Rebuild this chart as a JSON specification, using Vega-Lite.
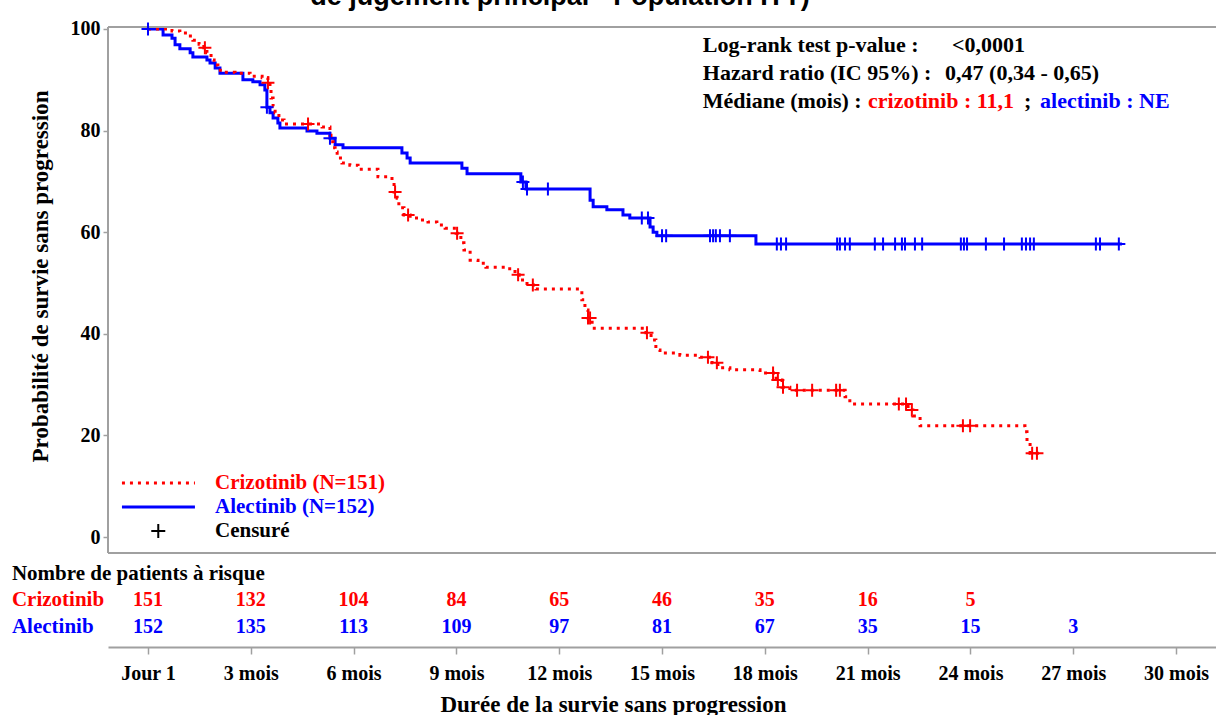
{
  "$schema": "https://vega.github.io/schema/vega-lite/v6.json",
  "width": 1108,
  "height": 620,
  "autosize": {"type": "none"},
  "padding": {"left": 108, "top": 27, "right": 0, "bottom": 68},
  "background": "white",
  "config": {"view": {"stroke": null}, "font": "Liberation Serif"},
  "datasets": {
    "km": [
      {"g":"r","m":0,"p":100},{"g":"r","m":0.70,"p":99.6},{"g":"r","m":0.93,"p":99.2},{"g":"r","m":1.14,"p":98.6},{"g":"r","m":1.31,"p":97.8},{"g":"r","m":1.49,"p":97.0},{"g":"r","m":1.63,"p":96.3},{"g":"r","m":1.72,"p":95.3},{"g":"r","m":1.84,"p":93.9},{"g":"r","m":1.93,"p":92.9},{"g":"r","m":2.04,"p":91.9},{"g":"r","m":2.16,"p":91.5},{"g":"r","m":2.54,"p":91.3},{"g":"r","m":2.98,"p":90.7},{"g":"r","m":3.33,"p":90.4},{"g":"r","m":3.50,"p":89.4},{"g":"r","m":3.56,"p":88.0},{"g":"r","m":3.59,"p":86.4},{"g":"r","m":3.65,"p":84.8},{"g":"r","m":3.71,"p":83.5},{"g":"r","m":3.82,"p":82.1},{"g":"r","m":3.97,"p":81.3},{"g":"r","m":5.08,"p":80.7},{"g":"r","m":5.31,"p":79.1},{"g":"r","m":5.34,"p":77.8},{"g":"r","m":5.40,"p":76.6},{"g":"r","m":5.46,"p":75.8},{"g":"r","m":5.52,"p":74.6},{"g":"r","m":5.66,"p":73.6},{"g":"r","m":5.89,"p":73.2},{"g":"r","m":6.13,"p":72.4},{"g":"r","m":6.71,"p":70.9},{"g":"r","m":7.12,"p":69.7},{"g":"r","m":7.18,"p":67.9},{"g":"r","m":7.27,"p":66.7},{"g":"r","m":7.32,"p":64.8},{"g":"r","m":7.47,"p":63.4},{"g":"r","m":7.65,"p":62.8},{"g":"r","m":7.94,"p":62.4},{"g":"r","m":8.17,"p":62.0},{"g":"r","m":8.43,"p":61.4},{"g":"r","m":8.67,"p":60.8},{"g":"r","m":8.99,"p":59.8},{"g":"r","m":9.13,"p":57.9},{"g":"r","m":9.22,"p":56.5},{"g":"r","m":9.40,"p":54.5},{"g":"r","m":9.63,"p":53.9},{"g":"r","m":9.86,"p":53.1},{"g":"r","m":10.42,"p":52.8},{"g":"r","m":10.71,"p":51.6},{"g":"r","m":10.83,"p":50.6},{"g":"r","m":11.06,"p":49.6},{"g":"r","m":11.32,"p":48.8},{"g":"r","m":12.66,"p":46.7},{"g":"r","m":12.75,"p":44.7},{"g":"r","m":12.84,"p":43.1},{"g":"r","m":12.96,"p":41.1},{"g":"r","m":14.53,"p":40.2},{"g":"r","m":14.68,"p":38.8},{"g":"r","m":14.82,"p":36.8},{"g":"r","m":14.94,"p":36.2},{"g":"r","m":15.52,"p":35.8},{"g":"r","m":16.11,"p":35.4},{"g":"r","m":16.46,"p":34.3},{"g":"r","m":16.63,"p":33.3},{"g":"r","m":16.98,"p":32.9},{"g":"r","m":17.86,"p":32.3},{"g":"r","m":18.33,"p":30.9},{"g":"r","m":18.50,"p":29.5},{"g":"r","m":18.73,"p":28.9},{"g":"r","m":20.34,"p":27.6},{"g":"r","m":20.48,"p":26.2},{"g":"r","m":22.18,"p":25.0},{"g":"r","m":22.32,"p":23.8},{"g":"r","m":22.53,"p":21.9},{"g":"r","m":25.59,"p":20.7},{"g":"r","m":25.65,"p":18.9},{"g":"r","m":25.74,"p":16.5},{"g":"r","m":26.03,"p":16.5},
      {"g":"b","m":0,"p":100},{"g":"b","m":0.44,"p":98.8},{"g":"b","m":0.70,"p":98.2},{"g":"b","m":0.79,"p":96.9},{"g":"b","m":0.93,"p":96.1},{"g":"b","m":1.23,"p":95.3},{"g":"b","m":1.31,"p":94.5},{"g":"b","m":1.72,"p":93.9},{"g":"b","m":1.81,"p":93.3},{"g":"b","m":1.96,"p":92.3},{"g":"b","m":2.10,"p":91.3},{"g":"b","m":2.77,"p":90.0},{"g":"b","m":3.06,"p":89.6},{"g":"b","m":3.27,"p":89.0},{"g":"b","m":3.41,"p":88.0},{"g":"b","m":3.47,"p":84.6},{"g":"b","m":3.56,"p":83.5},{"g":"b","m":3.65,"p":82.5},{"g":"b","m":3.79,"p":81.5},{"g":"b","m":3.85,"p":80.5},{"g":"b","m":4.64,"p":79.9},{"g":"b","m":4.93,"p":79.5},{"g":"b","m":5.31,"p":78.5},{"g":"b","m":5.46,"p":77.2},{"g":"b","m":5.69,"p":76.6},{"g":"b","m":7.41,"p":75.6},{"g":"b","m":7.56,"p":74.6},{"g":"b","m":7.65,"p":73.6},{"g":"b","m":9.16,"p":72.6},{"g":"b","m":9.31,"p":71.5},{"g":"b","m":10.88,"p":69.9},{"g":"b","m":11.03,"p":68.5},{"g":"b","m":12.90,"p":66.3},{"g":"b","m":12.99,"p":65.0},{"g":"b","m":13.39,"p":64.4},{"g":"b","m":13.86,"p":63.4},{"g":"b","m":14.06,"p":62.8},{"g":"b","m":14.65,"p":61.0},{"g":"b","m":14.74,"p":60.0},{"g":"b","m":14.85,"p":59.3},{"g":"b","m":17.74,"p":57.7},{"g":"b","m":28.42,"p":57.7}
    ],
    "cens": [
      {"g":"r","m":1.66,"p":96.3},{"g":"r","m":3.50,"p":89.4},{"g":"r","m":4.67,"p":81.3},{"g":"r","m":7.21,"p":67.9},{"g":"r","m":7.59,"p":63.4},{"g":"r","m":9.02,"p":59.8},{"g":"r","m":10.80,"p":51.6},{"g":"r","m":11.23,"p":49.6},{"g":"r","m":12.84,"p":43.1},{"g":"r","m":12.90,"p":43.1},{"g":"r","m":14.56,"p":40.2},{"g":"r","m":16.34,"p":35.4},{"g":"r","m":16.60,"p":34.3},{"g":"r","m":18.24,"p":32.3},{"g":"r","m":18.38,"p":30.9},{"g":"r","m":18.53,"p":29.5},{"g":"r","m":18.94,"p":28.9},{"g":"r","m":19.38,"p":28.9},{"g":"r","m":20.08,"p":28.9},{"g":"r","m":20.19,"p":28.9},{"g":"r","m":21.91,"p":26.2},{"g":"r","m":22.12,"p":26.2},{"g":"r","m":22.29,"p":25.0},{"g":"r","m":23.78,"p":21.9},{"g":"r","m":23.99,"p":21.9},{"g":"r","m":25.80,"p":16.5},{"g":"r","m":25.94,"p":16.5},
      {"g":"b","m":0,"p":100},{"g":"b","m":3.47,"p":84.6},{"g":"b","m":5.31,"p":78.5},{"g":"b","m":10.94,"p":69.9},{"g":"b","m":11.06,"p":68.5},{"g":"b","m":11.67,"p":68.5},{"g":"b","m":14.41,"p":62.8},{"g":"b","m":14.59,"p":62.8},{"g":"b","m":15.00,"p":59.3},{"g":"b","m":15.12,"p":59.3},{"g":"b","m":16.40,"p":59.3},{"g":"b","m":16.49,"p":59.3},{"g":"b","m":16.57,"p":59.3},{"g":"b","m":16.69,"p":59.3},{"g":"b","m":16.98,"p":59.3},{"g":"b","m":18.35,"p":57.7},{"g":"b","m":18.47,"p":57.7},{"g":"b","m":18.62,"p":57.7},{"g":"b","m":20.11,"p":57.7},{"g":"b","m":20.19,"p":57.7},{"g":"b","m":20.34,"p":57.7},{"g":"b","m":20.48,"p":57.7},{"g":"b","m":21.21,"p":57.7},{"g":"b","m":21.45,"p":57.7},{"g":"b","m":21.80,"p":57.7},{"g":"b","m":22.00,"p":57.7},{"g":"b","m":22.09,"p":57.7},{"g":"b","m":22.38,"p":57.7},{"g":"b","m":22.59,"p":57.7},{"g":"b","m":23.72,"p":57.7},{"g":"b","m":23.81,"p":57.7},{"g":"b","m":23.90,"p":57.7},{"g":"b","m":24.45,"p":57.7},{"g":"b","m":24.98,"p":57.7},{"g":"b","m":25.50,"p":57.7},{"g":"b","m":25.62,"p":57.7},{"g":"b","m":25.74,"p":57.7},{"g":"b","m":25.85,"p":57.7},{"g":"b","m":27.66,"p":57.7},{"g":"b","m":27.78,"p":57.7},{"g":"b","m":28.33,"p":57.7}
    ],
    "notes": [
      {"t":"Log-rank test p-value :","m":16.19,"p":95.47,"g":"k"},
      {"t":"<0,0001","m":23.46,"p":95.47,"g":"k"},
      {"t":"Hazard ratio (IC 95%) :","m":16.19,"p":89.96,"g":"k"},
      {"t":"0,47 (0,34 - 0,65)","m":23.26,"p":89.96,"g":"k"},
      {"t":"Médiane (mois) :","m":16.19,"p":84.45,"g":"k"},
      {"t":"crizotinib : 11,1","m":21.01,"p":84.45,"g":"r"},
      {"t":";","m":25.56,"p":84.45,"g":"k"},
      {"t":"alectinib : NE","m":26.03,"p":84.45,"g":"b"}
    ],
    "legend": [
      {"t":"Crizotinib (N=151)","m":1.955,"p":10.63,"g":"r"},
      {"t":"Alectinib (N=152)","m":1.955,"p":5.91,"g":"b"},
      {"t":"Censuré","m":1.955,"p":1.18,"g":"k"},
      {"t":"Nombre de patients à risque","m":-3.97,"p":-7.28,"g":"k"},
      {"t":"Crizotinib","m":-3.97,"p":-12.40,"g":"r"},
      {"t":"Alectinib","m":-3.97,"p":-17.72,"g":"b"}
    ],
    "risk": [
      {"t":"151","m":0,"p":-12.40,"g":"r"},{"t":"132","m":3,"p":-12.40,"g":"r"},{"t":"104","m":6,"p":-12.40,"g":"r"},{"t":"84","m":9,"p":-12.40,"g":"r"},{"t":"65","m":12,"p":-12.40,"g":"r"},{"t":"46","m":15,"p":-12.40,"g":"r"},{"t":"35","m":18,"p":-12.40,"g":"r"},{"t":"16","m":21,"p":-12.40,"g":"r"},{"t":"5","m":24,"p":-12.40,"g":"r"},
      {"t":"152","m":0,"p":-17.72,"g":"b"},{"t":"135","m":3,"p":-17.72,"g":"b"},{"t":"113","m":6,"p":-17.72,"g":"b"},{"t":"109","m":9,"p":-17.72,"g":"b"},{"t":"97","m":12,"p":-17.72,"g":"b"},{"t":"81","m":15,"p":-17.72,"g":"b"},{"t":"67","m":18,"p":-17.72,"g":"b"},{"t":"35","m":21,"p":-17.72,"g":"b"},{"t":"15","m":24,"p":-17.72,"g":"b"},{"t":"3","m":27,"p":-17.72,"g":"b"}
    ],
    "head": [
      {"t":"de jugement principal - Population ITT)","m":12.02,"p":104.72,"g":"k"}
    ]
  },
  "layer": [
    {
      "data": {"name": "km"},
      "transform": [{"filter": "datum.g == 'b'"}],
      "mark": {"type": "line", "interpolate": "step-after", "color": "#0000ff", "strokeWidth": 3},
      "encoding": {
        "x": {
          "field": "m", "type": "quantitative",
          "scale": {"domain": [-1.167, 31.165], "nice": false, "zero": false},
          "axis": {
            "values": [0,3,6,9,12,15,18,21,24,27,30],
            "labelExpr": "datum.value == 0 ? 'Jour 1' : datum.value + ' mois'",
            "title": "Durée de la survie sans progression",
            "grid": false,
            "domainColor": "#a0a0a0", "domainWidth": 2,
            "tickColor": "#a0a0a0", "tickSize": 7, "tickWidth": 1.5,
            "labelFont": "Liberation Serif", "labelFontWeight": "bold", "labelFontSize": 20, "labelColor": "#000000",
            "labelPadding": 9, "labelFlush": false, "labelOverlap": false,
            "titleFont": "Liberation Serif", "titleFontWeight": "bold", "titleFontSize": 23, "titleColor": "#000000",
            "titleX": 505, "titleY": 57, "titleBaseline": "middle"
          }
        },
        "y": {
          "field": "p", "type": "quantitative",
          "scale": {"domain": [-21.65, 100.39], "nice": false, "zero": false},
          "axis": {
            "values": [0,20,40,60,80,100],
            "grid": false, "domain": false,
            "tickColor": "#a0a0a0", "tickSize": 5, "tickWidth": 1.5,
            "labelFont": "Liberation Serif", "labelFontWeight": "bold", "labelFontSize": 20, "labelColor": "#000000",
            "labelPadding": 3,
            "title": "Probabilité de survie sans progression",
            "titleFont": "Liberation Serif", "titleFontWeight": "bold", "titleFontSize": 23, "titleColor": "#000000",
            "titleAngle": 270, "titleX": -68, "titleY": 249, "titleBaseline": "middle", "titleAlign": "center"
          }
        }
      }
    },
    {
      "data": {"name": "km"},
      "transform": [{"filter": "datum.g == 'r'"}],
      "mark": {"type": "line", "interpolate": "step-after", "color": "#ff0000", "strokeWidth": 3, "strokeDash": [3, 5]},
      "encoding": {
        "x": {"field": "m", "type": "quantitative"},
        "y": {"field": "p", "type": "quantitative"}
      }
    },
    {
      "data": {"values": [{}]},
      "mark": {"type": "rule", "color": "#a0a0a0", "strokeWidth": 2},
      "encoding": {
        "x": {"datum": -1.167, "type": "quantitative"},
        "x2": {"datum": 31.165},
        "y": {"datum": 100.39, "type": "quantitative"}
      }
    },
    {
      "data": {"values": [{}]},
      "mark": {"type": "rule", "color": "#a0a0a0", "strokeWidth": 2},
      "encoding": {
        "x": {"datum": -1.167, "type": "quantitative"},
        "x2": {"datum": 31.165},
        "y": {"datum": -3.15, "type": "quantitative"}
      }
    },
    {
      "data": {"values": [{}]},
      "mark": {"type": "rule", "color": "#a0a0a0", "strokeWidth": 2},
      "encoding": {
        "x": {"datum": -1.167, "type": "quantitative"},
        "y": {"datum": -3.15, "type": "quantitative"},
        "y2": {"datum": 100.39}
      }
    },
    {
      "data": {"name": "cens"},
      "mark": {"type": "point", "shape": "M-1,0L1,0M0,-1L0,1", "filled": false, "size": 169, "strokeWidth": 2, "opacity": 1},
      "encoding": {
        "x": {"field": "m", "type": "quantitative"},
        "y": {"field": "p", "type": "quantitative"},
        "color": {"field": "g", "type": "nominal", "scale": {"domain": ["k","r","b"], "range": ["#000000","#ff0000","#0000ff"]}, "legend": null}
      }
    },
    {
      "data": {"values": [{}]},
      "mark": {"type": "rule", "color": "#ff0000", "strokeWidth": 3, "strokeDash": [3, 5]},
      "encoding": {
        "x": {"datum": -0.76, "type": "quantitative"},
        "x2": {"datum": 1.37},
        "y": {"datum": 10.63, "type": "quantitative"}
      }
    },
    {
      "data": {"values": [{}]},
      "mark": {"type": "rule", "color": "#0000ff", "strokeWidth": 3},
      "encoding": {
        "x": {"datum": -0.76, "type": "quantitative"},
        "x2": {"datum": 1.37},
        "y": {"datum": 5.91, "type": "quantitative"}
      }
    },
    {
      "data": {"values": [{}]},
      "mark": {"type": "point", "shape": "M-1,0L1,0M0,-1L0,1", "filled": false, "size": 196, "strokeWidth": 2, "color": "#000000", "opacity": 1},
      "encoding": {
        "x": {"datum": 0.3, "type": "quantitative"},
        "y": {"datum": 1.18, "type": "quantitative"}
      }
    },
    {
      "data": {"name": "notes"},
      "mark": {"type": "text", "align": "left", "baseline": "alphabetic", "font": "Liberation Serif", "fontWeight": "bold", "fontSize": 22},
      "encoding": {
        "x": {"field": "m", "type": "quantitative"},
        "y": {"field": "p", "type": "quantitative"},
        "text": {"field": "t"},
        "color": {"field": "g", "type": "nominal", "scale": {"domain": ["k","r","b"], "range": ["#000000","#ff0000","#0000ff"]}, "legend": null}
      }
    },
    {
      "data": {"name": "legend"},
      "mark": {"type": "text", "align": "left", "baseline": "middle", "font": "Liberation Serif", "fontWeight": "bold", "fontSize": 21},
      "encoding": {
        "x": {"field": "m", "type": "quantitative"},
        "y": {"field": "p", "type": "quantitative"},
        "text": {"field": "t"},
        "color": {"field": "g", "type": "nominal", "scale": {"domain": ["k","r","b"], "range": ["#000000","#ff0000","#0000ff"]}, "legend": null}
      }
    },
    {
      "data": {"name": "risk"},
      "mark": {"type": "text", "align": "center", "baseline": "middle", "font": "Liberation Serif", "fontWeight": "bold", "fontSize": 20},
      "encoding": {
        "x": {"field": "m", "type": "quantitative"},
        "y": {"field": "p", "type": "quantitative"},
        "text": {"field": "t"},
        "color": {"field": "g", "type": "nominal", "scale": {"domain": ["k","r","b"], "range": ["#000000","#ff0000","#0000ff"]}, "legend": null}
      }
    },
    {
      "data": {"name": "head"},
      "mark": {"type": "text", "align": "center", "baseline": "alphabetic", "font": "Liberation Sans", "fontWeight": "bold", "fontSize": 27},
      "encoding": {
        "x": {"field": "m", "type": "quantitative"},
        "y": {"field": "p", "type": "quantitative"},
        "text": {"field": "t"},
        "color": {"field": "g", "type": "nominal", "scale": {"domain": ["k","r","b"], "range": ["#000000","#ff0000","#0000ff"]}, "legend": null}
      }
    }
  ]
}
